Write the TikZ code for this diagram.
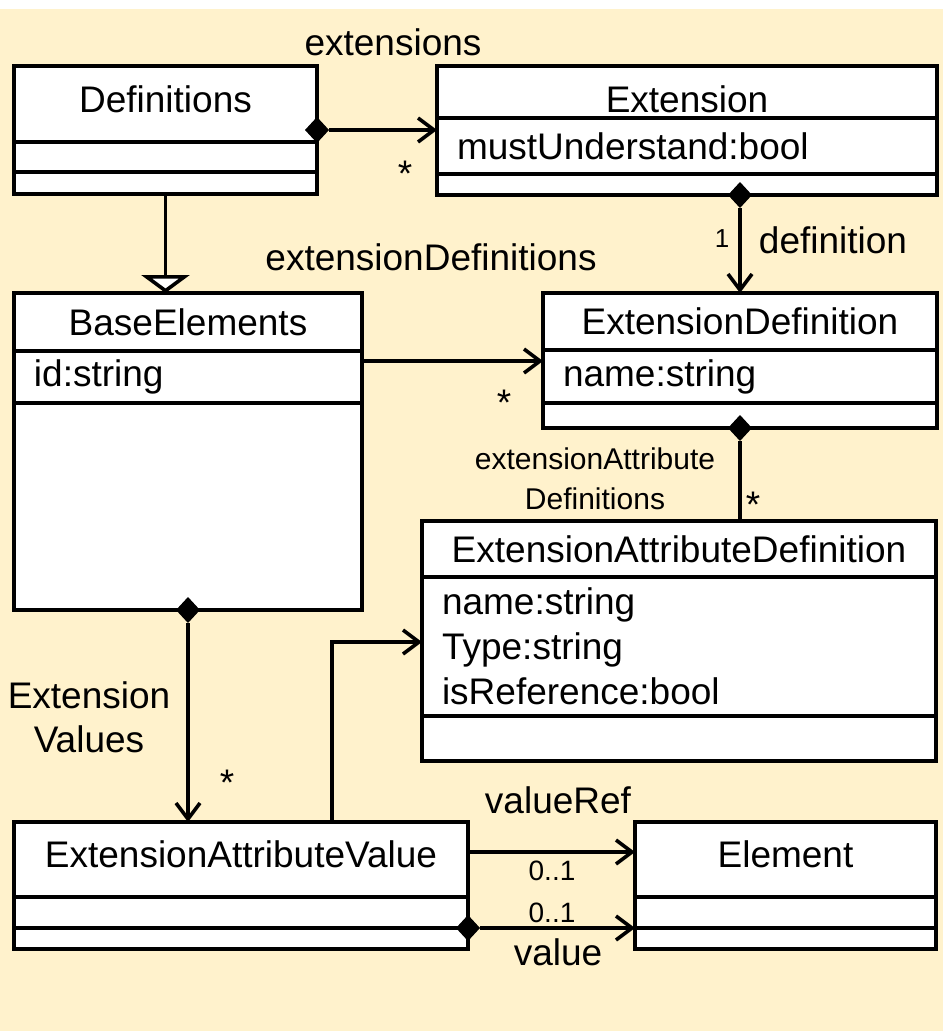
\documentclass[tikz,border=0pt]{standalone}
\usepackage{fontspec}
\setmainfont{Liberation Sans}
\usetikzlibrary{positioning, arrows.meta, shapes.geometric}

\definecolor{notebg}{HTML}{FFF2CC}

\newcommand{\umlfont}{\fontsize{37pt}{44pt}\selectfont}
\newcommand{\rolefont}{\fontsize{30pt}{40pt}\selectfont}
\newcommand{\multfont}{\fontsize{26pt}{30pt}\selectfont}

\tikzset{
    classpart/.style = {draw = black, rectangle, fill = white, line width = 3.6pt, outer sep = 0pt, inner sep = 0pt, font = \umlfont},
    classtitle/.style = {classpart, text height = 26pt, text depth = 0pt},
    classattr/.style = {classpart, inner xsep = 20pt, align = left},
    compdiamond/.style = {diamond, fill = black, minimum width = 24pt, minimum height = 26pt, inner sep = 0pt, outer sep = 0pt},
    assoc/.style = {line width = 3.6pt, -{Straight Barb[length = 16pt, width = 24pt]}},
    inherit/.style = {line width = 3.6pt, -{Triangle[length = 18pt, width = 48pt, fill = white]}},
    plainline/.style = {line width = 3.6pt},
    rolelabel/.style = {font = \umlfont, inner sep = 0pt},
}

\begin{document}
\begin{tikzpicture}[x = 1pt, y = -1pt]
    \useasboundingbox (0,0) rectangle (943,1031);
    \fill [notebg] (0,9) rectangle (943,1031);

    % classes
    \node [classtitle, text depth = 10pt, minimum width = 303pt, minimum height = 76pt, anchor = north west] (defnTitle) at (14,66) {Definitions};
    \node [classpart, minimum width = 303pt, minimum height = 30pt, below = 0pt of defnTitle] (defnAttr) {};
    \node [classpart, minimum width = 303pt, minimum height = 22pt, below = 0pt of defnAttr] (defnOps) {};

    \node [classtitle, text height = 40pt, minimum width = 500pt, minimum height = 52pt, anchor = north west] (extTitle) at (437,66) {Extension};
    \node [classattr, text width = 460pt, minimum height = 56pt, below = 0pt of extTitle] (extAttr) {mustUnderstand:bool};
    \node [classpart, minimum width = 500pt, minimum height = 21pt, below = 0pt of extAttr] (extOps) {};

    \node [classtitle, minimum width = 348pt, minimum height = 58pt, anchor = north west] (baseTitle) at (14,293) {BaseElements};
    \node [classattr, text width = 308pt, minimum height = 52pt, below = 0pt of baseTitle] (baseAttr) {id:string};
    \node [classpart, minimum width = 348pt, minimum height = 207pt, below = 0pt of baseAttr] (baseOps) {};

    \node [classtitle, minimum width = 394pt, minimum height = 57pt, anchor = north west] (extDefTitle) at (543,293) {ExtensionDefinition};
    \node [classattr, text width = 354pt, minimum height = 53pt, below = 0pt of extDefTitle] (extDefAttr) {name:string};
    \node [classpart, minimum width = 394pt, minimum height = 25pt, below = 0pt of extDefAttr] (extDefOps) {};

    \node [classtitle, minimum width = 514pt, minimum height = 56pt, anchor = north west] (eadTitle) at (422,521) {ExtensionAttributeDefinition};
    \node [classattr, font = \fontsize{37pt}{45pt}\selectfont, text width = 474pt, minimum height = 139pt, below = 0pt of eadTitle] (eadAttr) {name:string\\Type:string\\isReference:bool};
    \node [classpart, minimum width = 514pt, minimum height = 45pt, below = 0pt of eadAttr] (eadOps) {};

    \node [classtitle, text depth = 10pt, minimum width = 454pt, minimum height = 75pt, anchor = north west] (eavTitle) at (14,822) {ExtensionAttributeValue};
    \node [classpart, minimum width = 454pt, minimum height = 31pt, below = 0pt of eavTitle] (eavAttr) {};
    \node [classpart, minimum width = 454pt, minimum height = 21pt, below = 0pt of eavAttr] (eavOps) {};

    \node [classtitle, text depth = 10pt, minimum width = 301pt, minimum height = 75pt, anchor = north west] (elemTitle) at (635,822) {Element};
    \node [classpart, minimum width = 301pt, minimum height = 31pt, below = 0pt of elemTitle] (elemAttr) {};
    \node [classpart, minimum width = 301pt, minimum height = 21pt, below = 0pt of elemAttr] (elemOps) {};

    % connectors
    \node [compdiamond] (dmdDefn) at ([yshift = 12pt]defnTitle.south east) {};
    \draw [assoc] (dmdDefn) -- (dmdDefn -| extAttr.west);

    \draw [inherit] (defnOps.south) -- (defnOps.south |- baseTitle.north);

    \node [compdiamond] (dmdExt) at (extDefTitle.north |- extOps.south) {};
    \draw [assoc] (dmdExt) -- (extDefTitle.north);

    \coordinate (baseOut) at ([yshift = 16pt]baseAttr.east);
    \draw [assoc] (baseOut) -- (baseOut -| extDefAttr.west);

    \node [compdiamond] (dmdExtDef) at (extDefOps.south) {};
    \draw [plainline] (dmdExtDef) -- (dmdExtDef |- eadTitle.north);

    \node [compdiamond] (dmdBase) at (baseOps.south) {};
    \draw [assoc] (dmdBase) -- (dmdBase |- eavTitle.north);

    \draw [assoc] ([xshift = 91pt]eavTitle.north) |- ([yshift = 4.5pt]eadAttr.west);

    \coordinate (refOut) at ([yshift = 7.5pt]eavTitle.east);
    \draw [assoc] (refOut) -- (refOut -| elemTitle.west);

    \node [compdiamond] (dmdEav) at (eavOps.north east) {};
    \draw [assoc] (dmdEav) -- (dmdEav -| elemOps.west);

    % role names and multiplicities
    \node [rolelabel] (lblExtensions) at (393,42) {extensions};
    \node [rolelabel] (mulExtensions) at (405,174) {*};
    \node [rolelabel, font = \multfont] (mulDefinition) at (722,239) {1};
    \node [rolelabel] (lblDefinition) at (833,240) {definition};
    \node [rolelabel] (lblExtDefs) at (431,257) {extensionDefinitions};
    \node [rolelabel] (mulExtDefs) at (504,403) {*};
    \node [rolelabel, font = \rolefont, align = center] (lblAttrDefs) at (595,479) {extensionAttribute\\Definitions};
    \node [rolelabel] (mulAttrDefs) at (753,505) {*};
    \node [rolelabel, align = center] (lblExtValues) at (89,717) {Extension\\Values};
    \node [rolelabel] (mulExtValues) at (227,783) {*};
    \node [rolelabel] (lblValueRef) at (558,800) {valueRef};
    \node [rolelabel, font = \fontsize{28pt}{30pt}\selectfont] (mulValueRef) at (552,871) {0..1};
    \node [rolelabel, font = \fontsize{28pt}{30pt}\selectfont] (mulValue) at (552,913) {0..1};
    \node [rolelabel] (lblValue) at (558,952) {value};
\end{tikzpicture}
\end{document}
